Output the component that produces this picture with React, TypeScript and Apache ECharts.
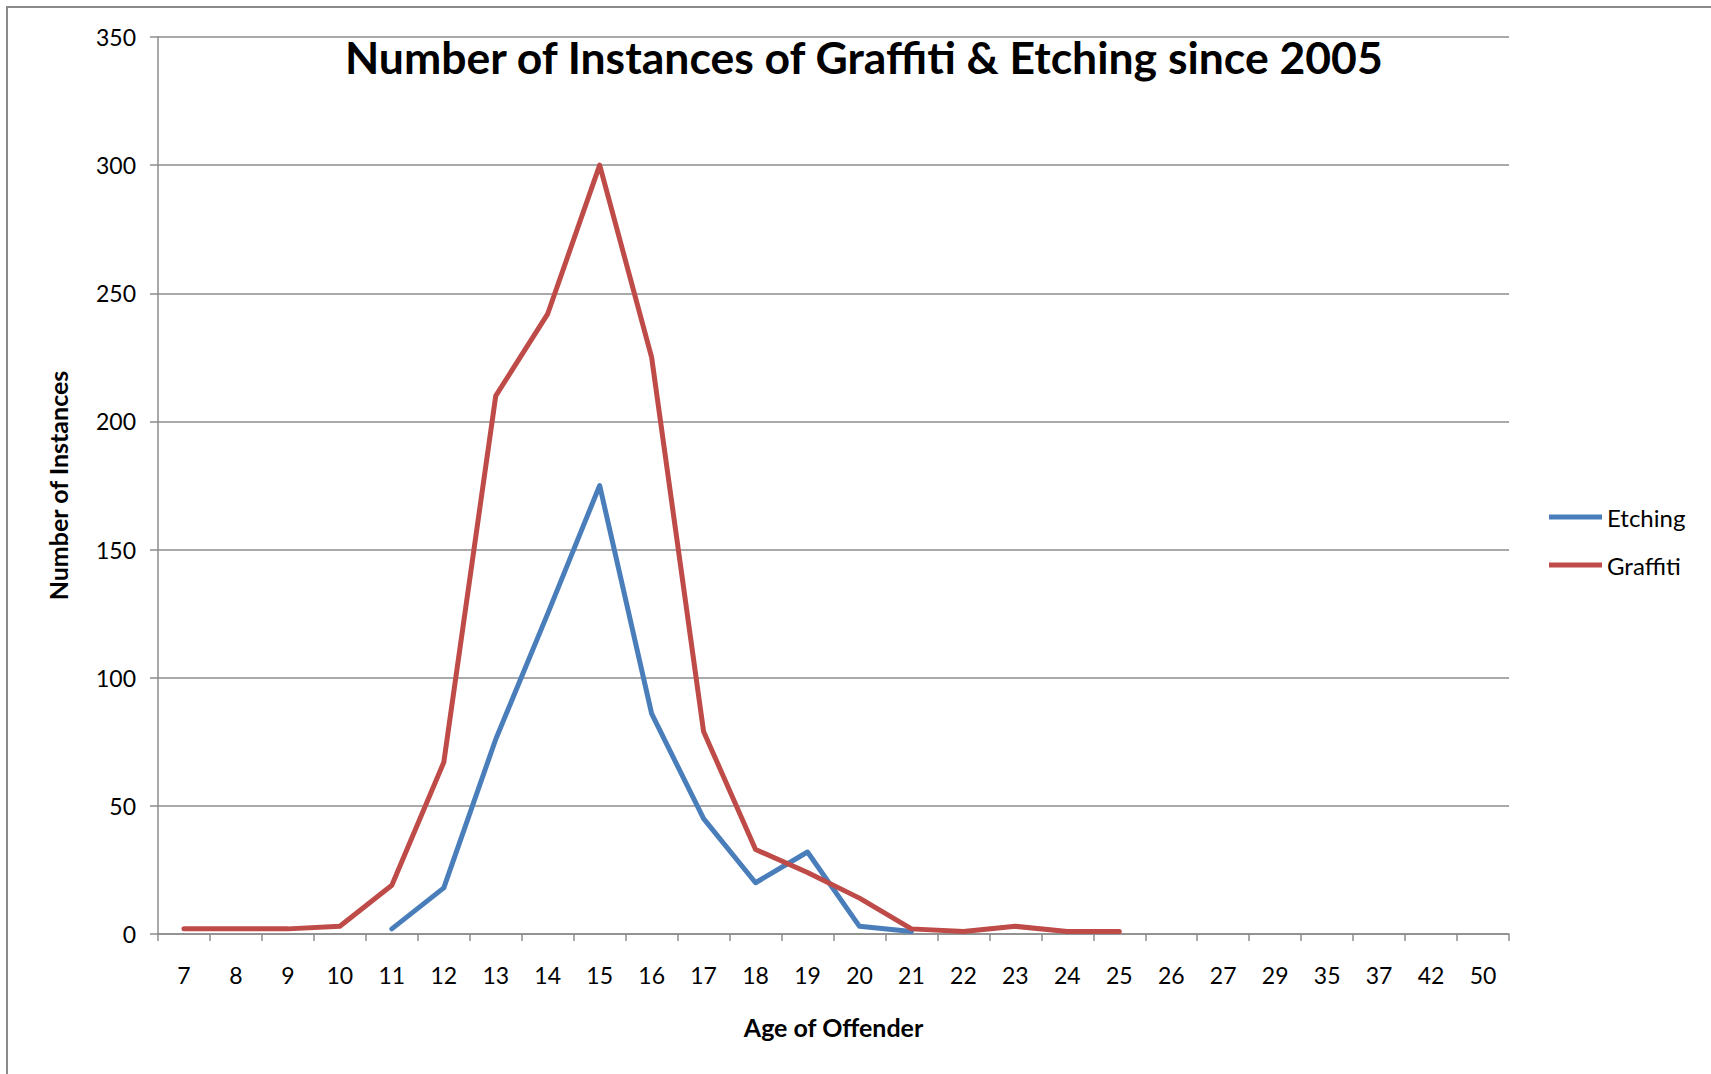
import React, { useEffect, useRef } from "react";
import * as echarts from "echarts";

const ages = ["7","8","9","10","11","12","13","14","15","16","17","18","19","20","21","22","23","24","25","26","27","29","35","37","42","50"];
const etching = [null,null,null,null,2,18,76,125,175,86,45,20,32,3,1,null,null,null,null,null,null,null,null,null,null,null];
const graffiti = [2,2,2,3,19,67,210,242,300,225,79,33,24,14,2,1,3,1,1,null,null,null,null,null,null,null];
const yTicks = { min: 0, max: 350, interval: 50 };

const FONT = "Lato, 'Open Sans', sans-serif";

export default function App() {
  const ref = useRef<HTMLDivElement>(null);
  useEffect(() => {
    if (!ref.current) return;
    const chart = echarts.init(ref.current, null, { renderer: "svg" });
    chart.setOption({
      animation: false,
      backgroundColor: "#ffffff",
      textStyle: { fontFamily: FONT },
      title: {
        text: "Number of Instances of Graffiti & Etching since 2005",
        left: 340,
        top: 29,
        textStyle: { fontFamily: FONT, fontWeight: "bold", fontSize: 44.5, color: "#000" },
      },
      graphic: [
        {
          type: "rect",
          shape: { x: 7, y: 7, width: 1800, height: 1200 },
          style: { fill: "none", stroke: "#8a8a8a", lineWidth: 2 },
          silent: true,
        },
      ],
      legend: {
        orient: "vertical",
        left: 1544,
        top: 499,
        itemWidth: 53,
        itemHeight: 5,
        itemGap: 22,
        icon: "rect",
        textStyle: { fontFamily: FONT, fontSize: 24, color: "#000", lineHeight: 26 },
        data: ["Etching", "Graffiti"],
      },
      grid: { left: 158, right: 202, top: 37, bottom: 140, containLabel: false },
      xAxis: {
        type: "category",
        data: ages,
        boundaryGap: true,
        name: "Age of Offender",
        nameLocation: "middle",
        nameGap: 80,
        nameTextStyle: { fontFamily: FONT, fontWeight: "bold", fontSize: 25, color: "#000" },
        axisLine: { show: true, lineStyle: { color: "#8c8c8c", width: 1.5 } },
        axisTick: { show: true, alignWithLabel: false, length: 7, lineStyle: { color: "#8c8c8c", width: 1.5 } },
        axisLabel: { margin: 29, fontFamily: FONT, fontSize: 23, color: "#000", interval: 0 },
        splitLine: { show: false },
      },
      yAxis: {
        type: "value",
        min: yTicks.min,
        max: yTicks.max,
        interval: yTicks.interval,
        name: "Number of Instances",
        nameLocation: "middle",
        nameGap: 88,
        nameRotate: 90,
        nameTextStyle: { fontFamily: FONT, fontWeight: "bold", fontSize: 25, color: "#000" },
        axisLine: { show: true, lineStyle: { color: "#8c8c8c", width: 1.5 } },
        axisTick: { show: true, length: 8, lineStyle: { color: "#8c8c8c", width: 1.5 } },
        axisLabel: { margin: 22, fontFamily: FONT, fontSize: 23, color: "#000" },
        splitLine: { show: true, lineStyle: { color: "#8c8c8c", width: 1.5 } },
      },
      series: [
        {
          name: "Etching",
          type: "line",
          data: etching,
          showSymbol: false,
          symbol: "none",
          connectNulls: false,
          itemStyle: { color: "#4a7ebb" },
          lineStyle: { color: "#4a7ebb", width: 5, cap: "round", join: "round" },
        },
        {
          name: "Graffiti",
          type: "line",
          data: graffiti,
          showSymbol: false,
          symbol: "none",
          connectNulls: false,
          itemStyle: { color: "#be4b48" },
          lineStyle: { color: "#be4b48", width: 5, cap: "round", join: "round" },
        },
      ],
    });
    return () => chart.dispose();
  }, []);
  return (
    <div
      ref={ref}
      style={{ position: "fixed", left: 0, top: 0, width: 1711, height: 1074, background: "#fff" }}
    />
  );
}
